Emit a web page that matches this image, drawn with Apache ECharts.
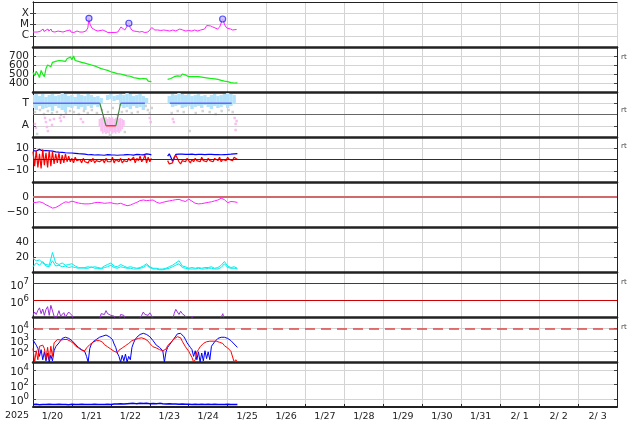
<!DOCTYPE html>
<html><head><meta charset="utf-8">
<script src="https://cdn.jsdelivr.net/npm/echarts@6/dist/echarts.min.js"></script>
<style>html,body{margin:0;padding:0;background:#fff}#c{width:634px;height:424px}</style>
</head><body><div id="c"></div>
<script>
// ---------- tick labels ----------
const yearLabel = '2025';
const dayLabels = ['1/20','1/21','1/22','1/23','1/24','1/25','1/26','1/27','1/28','1/29','1/30','1/31','2/ 1','2/ 2','2/ 3'];
const xrayTickVals = [-6,-5,-4];            // log10 W/m2
const xrayTickLabels = ['C','M','X'];
const speedTickVals = [400,500,600,700];
const sectorTickVals = [1,3];
const sectorTickLabels = ['A','T'];
const bzTickVals = [-10,0,10];
const dstTickVals = [-50,0];
const densTickVals = [20,40];
const p7TickVals = [6,7];                   // exponents of 10
const p8TickVals = [2,3,4];
const p9TickVals = [0,2,4];

// ---------- data (hours since 1/20 00:00) ----------
// X-ray flux, log10, irregular sampling
const xrayHour = [0,1.2,2.5,4.3,6.2,6.8,8,9.2,9.8,11.1,11.7,13.5,15.4,16.6,18.5,20.3,21.5,22.8,23.4,25.2,27.1,28.9,30.8,32.6,33.8,34.5,35.1,36.3,38.2,40,41.2,43.1,44.3,46.2,48,50.5,52.3,54.2,55.4,56.6,57.8,59.1,59.7,60.9,62.2,64,65.8,67.1,68.9,70.8,72,73.2,73.8,75.1,76.9,78.8,80.6,82.5,84.3,86.2,88,89.2,90.5,92.3,94.2,96,97.8,99.7,101.5,103.4,105.8,107.1,108.3,109.5,110.8,112,113.8,115.1,116.9,118.2,119.4,120.6,121.8,123.1,124.3,125.5];
const xrayLog = [-5.67,-5.58,-5.67,-5.62,-5.40,-5.62,-5.58,-5.40,-5.58,-5.40,-5.62,-5.67,-5.58,-5.62,-5.67,-5.58,-5.67,-5.49,-5.67,-5.71,-5.58,-5.67,-5.67,-5.58,-5.31,-4.45,-4.96,-5.31,-5.49,-5.58,-5.62,-5.49,-5.62,-5.71,-5.71,-5.71,-5.67,-5.22,-5.31,-5.49,-5.40,-4.89,-5.22,-5.49,-5.58,-5.62,-5.67,-5.62,-5.71,-5.67,-5.49,-5.27,-5.40,-5.49,-5.49,-5.53,-5.49,-5.53,-5.58,-5.49,-5.58,-5.49,-5.40,-5.49,-5.58,-5.53,-5.58,-5.49,-5.58,-5.49,-5.40,-5.09,-5.18,-5.13,-5.22,-5.31,-5.40,-5.22,-4.51,-5.04,-5.31,-5.44,-5.40,-5.49,-5.40,-5.44];
const flareHour = [34.5,59.1,116.9];
const flareLog = [-4.45,-4.89,-4.51];

// solar wind speed, hourly
const speed = [520,480,530,500,460,540,500,470,560,600,610,580,630,610,640,620,650,630,645,660,640,670,650,690,660,700,650,660,640,645,630,635,620,625,610,612,600,595,590,580,575,565,560,555,550,545,540,535,525,530,515,520,505,510,500,495,490,495,480,470,475,465,460,455,455,450,445,440,450,430,445,420,440,415,
null,null,null,null,null,null,null,null,null,
440,455,450,465,470,460,480,485,475,500,480,490,485,470,480,470,475,470,465,470,460,465,470,460,465,455,460,450,455,445,450,440,445,430,440,420,430,415,410,405,410,400,405,402];

// IMF sector panel (scale 0..4, A=1, T=3), light-blue cloud every 2 h
const towardHi = [3.73,3.82,3.64,3.82,3.56,3.73,3.82,3.64,3.73,3.91,3.82,3.64,3.73,3.56,3.82,3.73,3.64,3.82,3.73,3.56,3.64,3.47,null,3.73,3.82,3.64,3.73,3.82,3.73,3.91,3.82,3.64,3.73,3.82,3.64,3.47,null,null,null,null,null,null,3.64,3.82,3.73,3.91,3.82,3.73,3.82,3.64,3.73,3.82,3.64,3.73,3.56,3.73,3.82,3.64,3.73,3.82,3.91,3.82,3.73,null];
const towardLo = [2.58,2.4,2.76,2.49,2.58,2.67,2.31,2.76,2.58,2.4,2.22,2.67,2.58,2.76,2.49,2.67,2.4,2.76,2.58,2.84,2.67,3.02,null,3.29,3.38,3.2,3.29,2.76,2.58,2.67,2.49,2.76,2.58,2.67,2.4,2.93,null,null,null,null,null,null,2.93,2.67,2.76,2.84,2.58,2.67,2.76,2.49,2.67,2.76,2.58,2.84,2.67,2.49,2.76,2.58,2.67,2.84,2.58,2.76,3.02,null];
const awayHour = [41,42,43,44,45,46,47,48,49,50,51,52,53,54,55,56];
const awayHi = [1.6,1.7,1.78,1.7,1.75,1.6,1.78,1.7,1.75,1.6,1.7,1.78,1.65,1.7,1.6,1.5];
const awayLo = [0.9,0.5,0.3,0.4,0.27,0.35,0.3,0.5,0.3,0.4,0.3,0.45,0.35,0.5,0.7,1.0];
const pinkDots = [[7.4,1.69],[8.0,1.33],[8.6,0.89],[9.2,0.53],[10.5,1.51],[11.7,1.07],[12.9,1.6],[16.6,1.69],[17.2,1.42],[19.1,1.78],[29.5,1.6],[30.8,1.33],[72.0,1.69],[72.6,1.33],[86.2,1.6],[86.8,1.33],[124.3,1.69],[124.9,1.16],[124.9,0.62],[125.5,1.42],[1.8,0.8],[1.2,1.16]];
const grayDots = [[1.2,2.22],[4.3,2.4],[6.8,2.04],[9.2,2.31],[11.7,2.13],[14.8,2.22],[17.2,1.96],[20.3,2.13],[22.8,2.31],[25.2,2.22],[28.3,2.04],[31.4,2.31],[33.8,2.13],[36.3,2.4],[39.4,2.13],[42.5,2.4],[46.2,2.22],[49.2,2.58],[52.3,1.96],[54.8,2.22],[57.8,2.31],[60.9,2.13],[64.6,2.22],[69.5,2.76],[70.8,2.4],[72.0,2.13],[73.2,2.58],[85.5,2.13],[89.2,2.31],[92.9,2.22],[96.6,0.53],[100.3,2.13],[104.6,2.31],[108.9,2.22],[112.6,2.04],[116.3,2.31],[120.6,2.4],[123.1,2.22],[2.5,0.27],[47.4,0.18],[56.6,0.44]];
const sectorToward = [[0,3],[41.2,3],[41.2,null],[54,3],[69,3],[69,null],[84.3,3],[122.5,3]];
const sectorSwitch = [[41.2,3],[45,1],[45,null],[51.1,1],[54,3]];
const sectorAway = [[45,1],[51.1,1]];

// IMF Bt and Bz (nT), hourly
const bt = [8,8.5,7.5,8.2,9,8,7.6,8.4,8,7.5,7.8,7.2,7.5,7,6.8,7.2,6.5,6.8,6.3,6.5,6,6.2,5.8,5.5,5.8,5.2,5.5,5,5.2,4.8,5,4.6,4.8,4.5,4.2,4.6,4.3,4.5,4,4.4,4.2,4.5,4,4.3,3.8,4.2,4.4,3.9,4.1,4.5,4,4.2,3.8,4.3,4,4.5,4.1,3.9,4.4,4,4.2,4.5,3.9,4.2,4.6,4,4.3,4.8,4.1,4.4,5,4.2,4.6,4.0,
null,null,null,null,null,null,null,null,null,
3,5,2,-1.5,1,4.5,5.2,4.8,4.5,4.7,4.4,4.6,4.2,4.5,4.3,4.7,4.1,4.4,4.2,4.5,4.3,4.6,4.2,4.4,4.1,4.5,4.3,4.6,4.2,4.4,4.7,4.3,4.5,4.2,4.6,4.4,4.8,4.5,5,4.7,5.2,5,5.4,5.2];
const bz = [7,-6,8,-7,5,-8,9,-5,6,-7,8,-6,7,-4,5,-3,6,-4,4,-3,5,-2,3,-2,1,-3,2,-1,-2,0,-3,1,-2,-1,-3,0,-2,1,-3,-1,0,-2,-1,0,-3,1,-2,-1,-2,2,-3,0,-1,-2,1,-3,-1,0,-2,1,-1,-2,2,-3,1,-1,3,-2,0,4,-3,2,-2,1,
null,null,null,null,null,null,null,null,null,
-1,-4,-5,-3,2,4,3,-2,-4,-1,0,-2,1,-1,-3,0,-2,1,-1,0,-2,2,-1,0,-2,1,-1,0,-2,1,0,-1,2,-2,0,1,-1,2,0,1,-1,2,1,0];

// Dst (nT), every 2 h
const dst = [-19,-18,-16,-19,-26,-31,-37,-35,-29,-22,-16,-18,-14,-17,-20,-22,-23,-23,-22,-19,-18,-19,-21,-20,-19,-22,-23,-21,-25,-29,-27,-22,-18,-12,-10,-12,-11,-10,-17,-21,-18,-15,-13,-11,-9,-8,-12,-15,-7,-14,-21,-23,-22,-20,-18,-16,-13,-10,-4,-9,-19,-15,-16,-18];

// cyan pair, every 2 h
const cyanA = [18,15,16,12,10,9,26,12,10,12,9,10,11,8,6,5,6,7,6,7,6,5,8,10,12,8,7,10,8,6,7,6,5,6,8,11,7,5,5,4,4,5,7,9,12,15,8,7,5,6,5,6,5,6,6,7,5,6,9,14,8,6,7,5];
const cyanB = [7,12,9,14,8,7,15,8,9,7,8,6,7,6,5,6,5,5,7,5,5,4,6,7,9,6,5,7,6,5,5,4,4,5,6,9,6,4,4,3,3,4,5,7,9,11,6,5,4,4,4,5,4,4,5,5,4,4,6,11,6,5,5,4];

// purple flux, log10, hourly (values below 5 fall under the panel floor)
const purpleLog = [5.1,5.3,5.15,5.4,5.55,5.2,5.48,5.1,5.45,5.62,5.1,5.7,5.76,5.05,
4.9,5.1,5.38,5.05,5.1,5.26,5.0,5.1,5.3,5.38,5.1,
4.8,4.8,4.8,4.8,4.8,4.8,4.8,4.8,4.8,4.8,4.8,4.8,4.8,4.8,4.8,4.8,4.8,
5.2,5.3,5.15,5.38,5.2,5.3,5.1,5.2,5.05,
4.8,4.8,4.8,
5.15,5.25,5.1,
4.8,4.8,4.8,4.8,4.8,4.8,4.8,4.8,4.8,4.8,
5.1,5.3,5.15,5.25,5.1,5.25,5.1,
4.8,4.8,4.8,4.8,4.8,4.8,4.8,4.8,4.8,4.8,4.8,4.8,4.8,
5.2,5.46,5.3,5.15,5.35,5.2,5.3,5.05,
4.8,4.8,4.8,
5.05,
4.8,4.8,4.8,4.8,4.8,4.8,4.8,4.8,4.8,4.8,4.8,4.8,4.8,4.8,4.8,4.8,4.8,4.8,
5.2,
4.8,4.8,4.8,4.8,4.8,4.8,4.8,4.8,4.8];

// electron flux pair, log10, hourly
const elecBlueLog = [2.96,2.8,2.5,2.2,1.5,2.1,1.2,1.9,1.1,1.8,
1.0,1.6,1.1,2.0,2.36,2.3,2.7,2.9,3.1,3.25,
3.2,3.25,3.1,3.05,2.9,2.85,2.6,2.45,2.3,2.25,
2.1,2.05,1.9,1.5,1.0,2.2,2.6,2.8,2.9,3.0,
3.1,3.2,3.15,3.3,3.35,3.4,3.3,3.25,3.2,3.0,
2.6,2.3,1.8,1.5,1.0,1.6,1.1,1.7,1.0,1.5,
1.2,2.3,2.7,3.0,3.2,3.3,3.45,3.5,3.55,3.5,
3.45,3.35,3.25,3.1,2.9,2.75,2.5,2.45,2.3,2.15,
2.0,1.0,1.9,2.3,2.5,2.7,2.9,3.1,3.3,3.5,
3.64,3.55,3.4,3.25,3.0,2.7,2.5,2.3,2.1,1.5,
2.0,1.2,1.9,1.0,1.8,1.1,2.0,1.3,1.9,1.2,
2.4,2.6,2.8,2.95,3.1,3.15,3.2,3.25,3.2,3.15,
3.1,3.0,2.9,2.75,2.6,2.45,2.3];
const elecRedLog = [2.2,1.0,2.0,1.2,2.4,2.3,2.5,2.2,1.3,2.3,
1.2,2.4,1.5,2.7,2.85,3.0,2.9,2.95,2.85,3.0,
2.85,3.0,2.85,2.85,2.7,2.65,2.45,2.4,2.25,2.25,
2.05,2.1,2.0,2.25,2.3,2.55,2.55,2.75,2.75,2.9,
2.85,2.9,2.75,2.75,2.55,2.55,2.35,2.35,2.15,2.15,
1.95,2.0,1.85,2.05,2.05,2.25,2.25,2.45,2.45,2.65,
2.7,2.9,2.85,3.0,2.95,3.1,3.05,3.15,3.0,3.05,
2.9,2.85,2.65,2.55,2.35,2.4,2.25,2.25,2.1,2.15,
2.0,2.15,2.15,2.45,2.45,2.75,2.8,3.05,3.05,3.25,
3.2,3.15,2.85,2.75,2.35,2.25,1.95,1.85,1.4,1.0,
1.2,1.9,2.1,2.35,2.45,2.65,2.65,2.8,2.75,2.85,
2.8,2.85,2.8,2.85,2.7,2.75,2.65,2.65,2.45,2.45,
2.25,2.25,1.95,1.8,1.0,1.2,1.0];

// bottom panel, log10, every 2 h
const bottomLog = [-0.75,-0.72,-0.78,-0.74,-0.76,-0.73,-0.77,-0.75,-0.72,-0.76,-0.74,-0.78,-0.73,-0.75,-0.77,-0.72,-0.76,-0.74,-0.75,-0.73,-0.77,-0.74,-0.76,-0.72,-0.75,-0.7,-0.68,-0.65,-0.7,-0.66,-0.62,-0.6,-0.66,-0.58,-0.63,-0.6,-0.64,-0.62,-0.66,-0.6,-0.64,-0.67,-0.65,-0.7,-0.68,-0.72,-0.7,-0.73,-0.71,-0.74,-0.72,-0.75,-0.73,-0.74,-0.72,-0.75,-0.73,-0.76,-0.74,-0.75,-0.73,-0.76,-0.74,-0.75];

// ---------- build ----------
const FONT = 'DejaVu Sans';
const NP = 9, TOP0 = 2, PH = 45;
const step = (arr, s) => arr.map((v, i) => [i * s, v]);
const zip = (a, b) => a.map((v, i) => [v, b[i]]);
const neg = v => (v < 0 ? '\u2212' + (-v) : String(v));
const sup = v => '10{s|' + v + '}';

const panels = [
  {min:-7, max:-3, ticks:xrayTickVals, fmt:v => xrayTickLabels[xrayTickVals.indexOf(v)]},
  {min:300, max:800, ticks:speedTickVals, fmt:v => String(v)},
  {min:0, max:4, ticks:sectorTickVals, fmt:v => sectorTickLabels[sectorTickVals.indexOf(v)]},
  {min:-20, max:20, ticks:bzTickVals, fmt:neg},
  {min:-100, max:50, ticks:dstTickVals, fmt:neg},
  {min:0, max:60, ticks:densTickVals, fmt:neg},
  {min:5, max:7.7, ticks:p7TickVals, fmt:sup, pow:true},
  {min:1, max:5, ticks:p8TickVals, fmt:sup, pow:true},
  {min:-1.1, max:5.1, ticks:p9TickVals, fmt:sup, pow:true}
];

const grids = [], xAxes = [], yAxes = [];
const gridLineColor = '#d4d4d4';
panels.forEach((p, i) => {
  grids.push({left:33, right:17, top:TOP0 + i*PH, height:PH});
  const last = i === NP - 1;
  xAxes.push({
    gridIndex:i, type:'value', min:0, max:360, interval:24,
    axisLine:{show:true, onZero:false, lineStyle:{color:'#222', width:last ? 2 : 2.5}},
    axisTick:{show:last, inside:true, length:3, lineStyle:{color:'#222'}},
    splitLine:{show:true, lineStyle:{color:gridLineColor, width:1}},
    axisLabel: last ? {
      show:true, hideOverlap:false, customValues: dayLabels.map((_, k) => k*24 + 12),
      formatter: v => dayLabels[Math.round((v - 12)/24)],
      fontFamily:FONT, fontSize:9.5, color:'#222', margin:5
    } : {show:false}
  });
  // blank end labels absorb the library's min/max label suppression so every real label shows
  const labelVals = [p.min].concat(p.ticks, [p.max]);
  yAxes.push({
    gridIndex:i, type:'value', min:p.min, max:p.max, position:'left',
    axisLine:{show:true, lineStyle:{color:'#222', width:1}},
    axisTick:{show:true, inside:true, length:3, customValues:p.ticks, lineStyle:{color:'#444'}},
    splitLine:{show:true, lineStyle:{color:gridLineColor, width:1}},
    axisLabel:{show:true, hideOverlap:false, showMinLabel:false, showMaxLabel:false,
      customValues:labelVals,
      formatter:v => (v === p.min || v === p.max) ? '' : p.fmt(v),
      fontFamily:FONT, fontSize:10.5, color:'#222', margin:4,
      padding: p.pow ? [5,0,0,0] : 0,
      rich:{s:{fontFamily:FONT, fontSize:8.5, color:'#222', padding:[0,0,9,0]}}}
  });
});
panels.forEach((p, i) => {
  yAxes.push({
    gridIndex:i, type:'value', min:p.min, max:p.max, position:'right',
    axisLine:{show:true, lineStyle:{color:'#222', width:1}},
    axisTick:{show:true, inside:true, length:3, customValues:p.ticks, lineStyle:{color:'#444'}},
    splitLine:{show:false}, axisLabel:{show:false}
  });
});
// top border
xAxes.push({gridIndex:0, type:'value', position:'top', min:0, max:360, interval:24,
  axisLine:{show:true, onZero:false, lineStyle:{color:'#222', width:1}},
  axisTick:{show:false}, axisLabel:{show:false}, splitLine:{show:false}});

const L = (idx, data, color, width, extra) => Object.assign({
  type:'line', xAxisIndex:idx, yAxisIndex:idx, data, showSymbol:false, symbol:'none',
  lineStyle:{color, width}, itemStyle:{color}, connectNulls:false, animation:false, silent:true
}, extra || {});
const ML = (vals, color, width, type) => ({silent:true, symbol:'none', label:{show:false},
  lineStyle:{color, width, type: type || 'solid'}, data: vals.map(v => ({yAxis:v}))});

// vertical range strips (one per sample) for the dotted sector clouds
const band = (idx, hours, lo, hi, halfW, color) => ({
  type:'custom', xAxisIndex:idx, yAxisIndex:idx, silent:true, animation:false, clip:true,
  data: hours.map((h, k) => [h, lo[k], hi[k]]).filter(d => d[1] != null && d[2] != null),
  encode:{x:0, y:[1, 2]},
  renderItem:(params, api) => {
    const h = api.value(0);
    const p1 = api.coord([h - halfW, api.value(2)]);
    const p2 = api.coord([h + halfW, api.value(1)]);
    return {type:'rect', shape:{x:p1[0], y:p1[1], width:p2[0] - p1[0], height:p2[1] - p1[1]},
      style:{fill:color}};
  }
});

const series = [
  // X-ray
  L(0, zip(xrayHour, xrayLog), '#ff22ff', 1),
  {type:'scatter', xAxisIndex:0, yAxisIndex:0, data:zip(flareHour, flareLog), symbol:'circle', symbolSize:6,
   itemStyle:{color:'#c9b8ff', borderColor:'#2a2aff', borderWidth:1.2}, silent:true, animation:false, z:5},
  // speed
  L(1, step(speed, 1), '#11ee11', 1.2),
  // sector
  {type:'scatter', xAxisIndex:2, yAxisIndex:2, data:grayDots, symbol:'rect', symbolSize:2.5,
   itemStyle:{color:'#c8c8c8'}, silent:true, animation:false},
  band(2, towardHi.map((_, k) => k*2), towardLo, towardHi, 1.05, '#b3e3fb'),
  band(2, awayHour, awayLo, awayHi, 0.55, '#f8bff0'),
  {type:'scatter', xAxisIndex:2, yAxisIndex:2, data:pinkDots, symbol:'rect', symbolSize:2.5,
   itemStyle:{color:'#f6b0ec'}, silent:true, animation:false},
  L(2, sectorToward, '#6666ff', 1.3, {markLine:ML([2], '#666', 1)}),
  L(2, sectorSwitch, '#3c8c3c', 1.2),
  L(2, sectorAway, '#ff3030', 1.3),
  // Bt / Bz
  L(3, step(bt, 1), '#0000ff', 1.2),
  L(3, step(bz, 1), '#ff0000', 1.2, {markLine:ML([0], '#a00000', 1)}),
  // Dst
  L(4, step(dst, 2), '#ff22ff', 1, {markLine:ML([0], '#d06a6a', 2)}),
  // cyan pair
  L(5, step(cyanB, 2), '#00eeee', 1),
  L(5, step(cyanA, 2), '#00eeee', 1),
  // purple
  L(6, step(purpleLog, 1), '#9b30d8', 1, {markLine:ML([6, 7], '#cc0000', 1)}),
  // electrons
  L(7, step(elecBlueLog, 1), '#0000ff', 1, {markLine:ML([4], '#e04848', 1.5, [10, 6])}),
  L(7, step(elecRedLog, 1), '#ff0000', 1),
  // bottom
  L(8, step(bottomLog, 2), '#0000ff', 1.5)
];

const rtPos = [57, 110, 146, 282, 327];
const graphic = rtPos.map(y => ({type:'text', x:621, y:y, silent:true,
  style:{text:'rt', font:'7px ' + FONT, fill:'#444', textVerticalAlign:'middle'}}));
graphic.push({type:'text', x:17, y:416, silent:true,
  style:{text:yearLabel, font:'9.5px ' + FONT, fill:'#222', textAlign:'center', textVerticalAlign:'middle'}});

const chart = echarts.init(document.getElementById('c'), null, {renderer:'canvas'});
chart.setOption({
  animation:false, backgroundColor:'#fff',
  textStyle:{fontFamily:FONT},
  grid:grids, xAxis:xAxes, yAxis:yAxes, series, graphic
});
</script></body></html>
